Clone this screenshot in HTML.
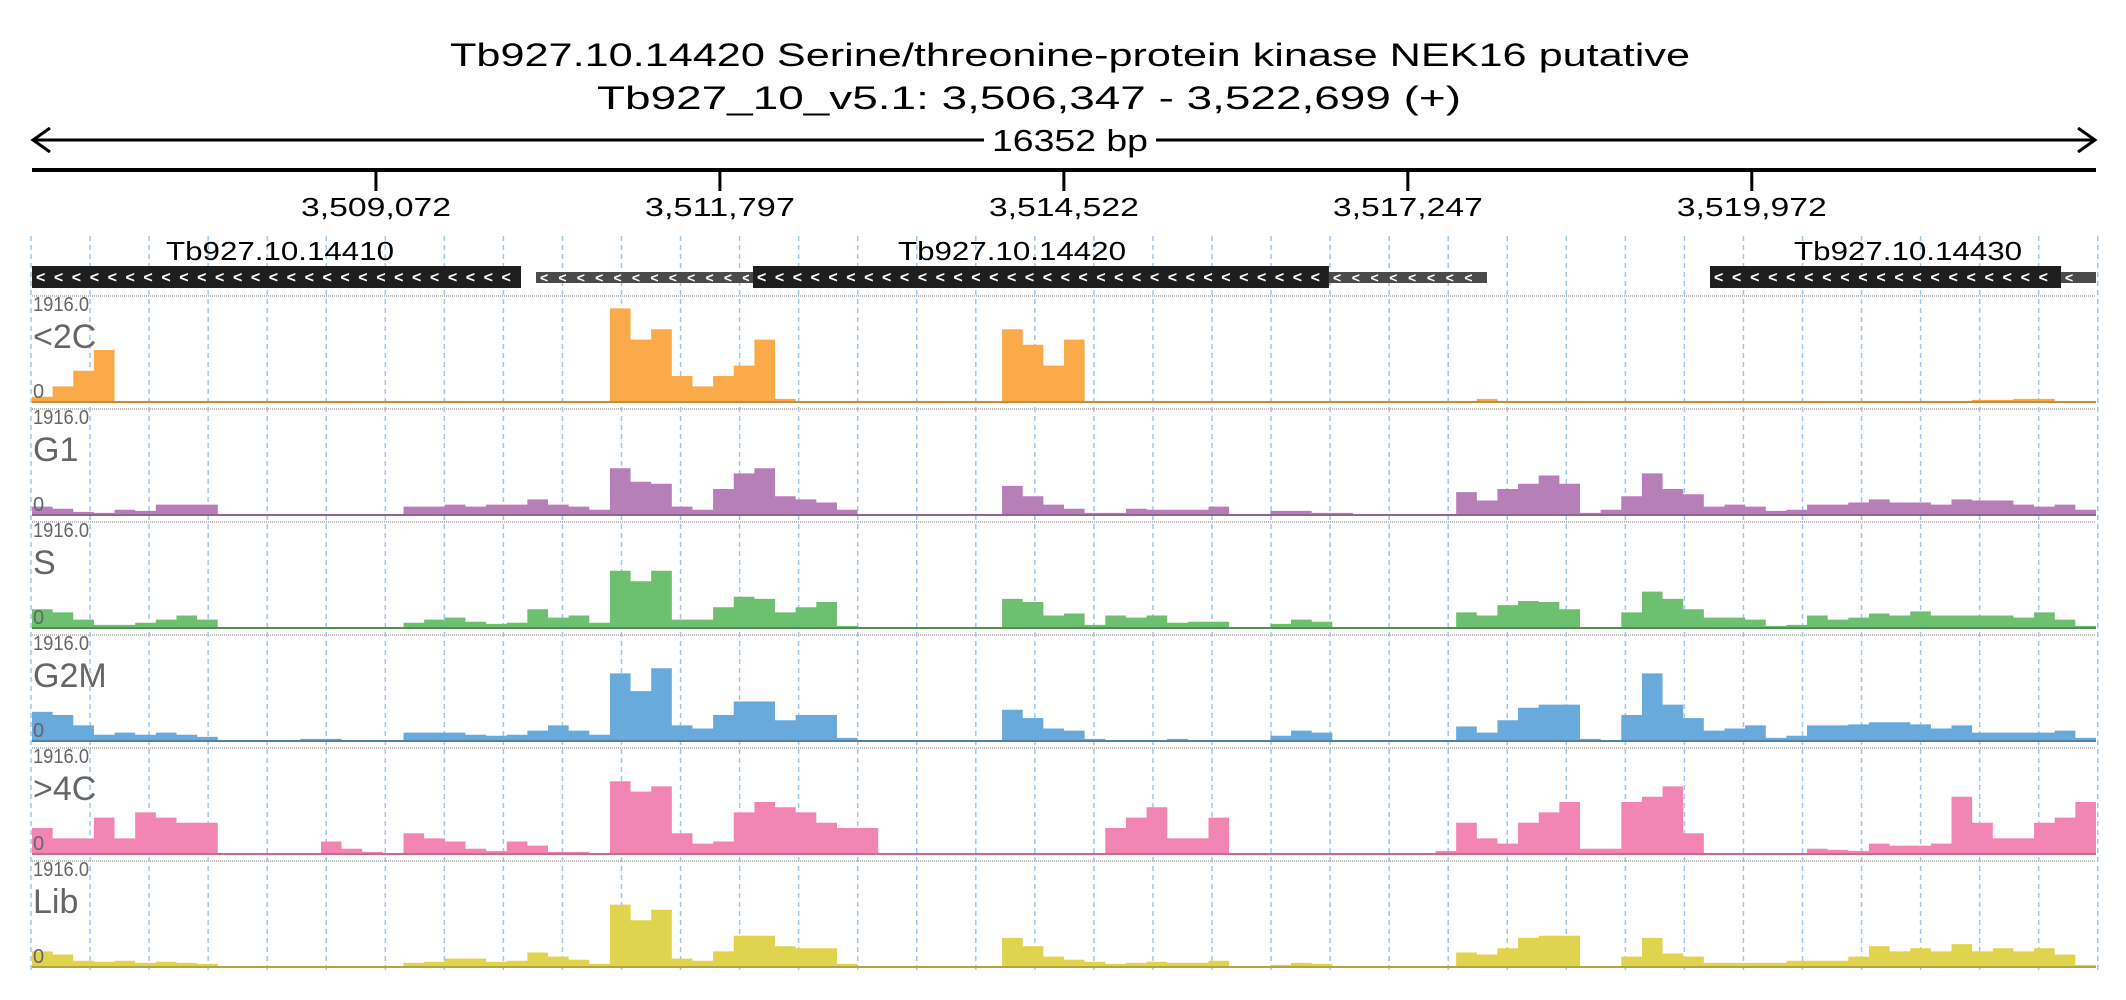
<!DOCTYPE html>
<html><head><meta charset="utf-8"><style>
html,body{margin:0;padding:0;background:#fff;}
svg{display:block;font-family:"Liberation Sans",sans-serif;}
</style></head><body>
<svg id="chart" width="2126" height="1000" viewBox="0 0 2126 1000" xmlns="http://www.w3.org/2000/svg">
<rect width="2126" height="1000" fill="#fff"/>
<g id="grid"></g>
<text x="1070" y="66" text-anchor="middle" font-size="32" textLength="1240" lengthAdjust="spacingAndGlyphs" fill="#000">Tb927.10.14420  Serine/threonine-protein kinase NEK16  putative</text>
<text x="1029" y="109" text-anchor="middle" font-size="32" textLength="864" lengthAdjust="spacingAndGlyphs" fill="#000">Tb927_10_v5.1: 3,506,347 - 3,522,699 (+)</text>
<g stroke="#000" stroke-width="3" fill="none">
<line x1="33" y1="140" x2="984" y2="140"/><line x1="1156" y1="140" x2="2095" y2="140"/>
<polyline points="50,128 33,140 50,152"/><polyline points="2078,128 2095,140 2078,152"/>
</g>
<text x="1070" y="151" text-anchor="middle" font-size="31" textLength="156" lengthAdjust="spacingAndGlyphs">16352 bp</text>
<line x1="32" y1="170" x2="2096" y2="170" stroke="#000" stroke-width="4"/>
<g id="axis"></g>
<g id="genes"></g>
<g id="tracks"></g>
</svg>
<script>
const NS="http://www.w3.org/2000/svg";
const START=3506347, END=3522699;
const tickValues=[3509072,3511797,3514522,3517247,3519972];
const tickLabels=["3,509,072","3,511,797","3,514,522","3,517,247","3,519,972"];
const geneNames=["Tb927.10.14410","Tb927.10.14420","Tb927.10.14430"];
const geneLabelPos=[3508312,3514111,3521210];
const cdsStart=[3506347,3512059,3519641];
const cdsEnd=[3510221,3516622,3522422];
const utrStart=[3510340,3516622,3522422];
const utrEnd=[3512059,3517874,3522699];
const trackNames=["<2C","G1","S","G2M",">4C","Lib"];
const trackMax="1916.0";
const nBins=100;
const v2C=[5,15,30,50,0,0,0,0,0,0,0,0,0,0,0,0,0,0,0,0,0,0,0,0,0,0,0,0,90,60,70,25,15,25,35,60,3,0,0,0,0,0,0,0,0,0,0,70,55,35,60,0,0,0,0,0,0,0,0,0,0,0,0,0,0,0,0,0,0,0,3,0,0,0,0,0,0,0,0,0,0,0,0,0,0,0,0,0,0,0,0,0,0,0,2,2,3,3,0,0];
const vG1=[8,6,3,2,5,4,10,10,10,0,0,0,0,1,1,1,0,0,8,8,10,8,10,10,15,10,8,5,45,32,30,8,5,25,40,45,18,15,12,5,0,0,0,0,0,0,0,28,18,10,6,2,2,6,5,5,5,8,1,1,4,4,2,2,1,0,0,0,1,22,14,25,30,38,30,2,5,18,40,25,20,8,10,8,4,5,10,10,12,15,12,12,10,15,14,14,10,8,10,5];
const vS=[18,15,8,3,3,5,8,12,8,0,0,0,0,1,1,1,0,0,5,8,10,6,4,5,18,10,12,5,55,45,55,8,8,20,30,28,15,20,25,2,1,0,0,0,0,0,0,28,25,12,14,3,12,10,12,5,6,6,0,0,4,8,6,0,0,0,0,0,1,15,12,22,26,25,18,1,1,15,35,28,18,10,10,8,2,3,12,8,10,14,12,16,12,12,12,12,10,15,8,2];
const vG2M=[28,25,15,6,8,6,8,6,4,0,0,0,0,2,2,0,0,0,8,8,8,6,5,6,10,15,10,6,65,48,70,15,12,25,38,38,20,25,25,3,1,0,0,0,0,0,0,30,22,12,10,2,1,1,1,2,1,1,0,0,5,10,8,1,0,0,0,0,1,14,8,20,32,35,35,2,1,25,65,35,22,10,12,15,3,5,15,15,16,18,18,16,12,15,8,8,8,8,10,3];
const v4C=[25,15,15,35,15,40,35,30,30,0,0,0,0,0,12,5,2,1,20,15,12,5,3,12,8,2,2,0,70,60,65,20,10,12,40,50,45,40,30,25,25,0,0,0,0,0,0,0,0,0,0,0,25,35,45,15,15,35,0,0,0,0,0,0,0,0,0,0,3,30,15,10,30,40,50,5,5,50,55,65,20,0,0,0,0,0,5,4,3,10,8,8,10,55,30,15,15,30,35,50];
const vLib=[15,12,6,5,6,4,5,4,3,0,0,0,0,1,1,0,0,0,4,5,8,8,5,6,14,10,7,3,60,45,55,8,6,15,30,30,20,18,18,3,0,0,0,0,0,0,0,28,20,10,7,5,3,4,5,4,4,6,0,0,2,4,3,1,1,0,0,0,1,14,12,18,28,30,30,1,1,10,28,13,10,4,4,4,4,6,6,6,10,20,15,18,15,22,15,18,15,18,12,2];
const trackValues=[v2C,vG1,vS,vG2M,v4C,vLib];
const trackColors=["#fbaa4a","#b67fb8","#6dc06f","#68aadc","#f385b5","#e0d44e"];
const lineColors=["#c98a3c","#8f6592","#4f8f51","#4f82a8","#c46a90","#b0a63c"];

const X0=32,X1=2096;
function xs(bp){return X0+(bp-START)/(END-START)*(X1-X0);}
function binX(i){return X0+i/nBins*(X1-X0);}
const TRACK_TOP=296,TRACK_STEP=113,TRACK_H=106;
function ys(v,k){return TRACK_TOP+TRACK_STEP*k+TRACK_H-v/100*(TRACK_H-2);}
function mk(tag,attrs,parent){const e=document.createElementNS(NS,tag);for(const a in attrs)e.setAttribute(a,attrs[a]);parent.appendChild(e);return e;}

const grid=document.getElementById('grid');
for(let k=0;k<=35;k++){
  const x=31+k*59.05;
  const l=mk('line',{x1:x,y1:236,x2:x,y2:972,stroke:'#9cc8ef','stroke-width':1.5,'stroke-dasharray':'5,4'},grid);
  
  
}
const axis=document.getElementById('axis');
tickValues.forEach((t,i)=>{
  const x=xs(t);
  const tk=mk('line',{x1:x,y1:170,x2:x,y2:191,stroke:'#000','stroke-width':3},axis);
  
  
  const tx=mk('text',{x:x,y:216,'text-anchor':'middle','font-size':26,textLength:150,lengthAdjust:'spacingAndGlyphs'},axis);
  tx.textContent=tickLabels[i];
  
  
});
const genes=document.getElementById('genes');
const defs=mk('defs',{},genes);
function chevrons(x1,x2,yc,fs,id){
  const cp=mk('clipPath',{id:id},defs);
  mk('rect',{x:x1,y:yc-15,width:x2-x1-4,height:30},cp);
  const n=Math.ceil((x2-x1)/17.6);
  const t=mk('text',{x:x1+4,y:yc+5,'font-size':fs,'font-weight':'bold',fill:'#fff','clip-path':'url(#'+id+')'},genes);
  t.textContent='<'.repeat(n);
  t.setAttribute('textLength',n*17.6);
  t.setAttribute('lengthAdjust','spacing');
  
  
}
for(let i=0;i<3;i++){
  const u=mk('rect',{x:xs(utrStart[i]),y:272,width:xs(utrEnd[i])-xs(utrStart[i]),height:11,fill:'#4a4a4a'},genes);
  
  
  chevrons(xs(utrStart[i]),xs(utrEnd[i]),277.5,14,'cu'+i);
  const r=mk('rect',{x:xs(cdsStart[i]),y:266,width:xs(cdsEnd[i])-xs(cdsStart[i]),height:22,fill:'#1e1e1e'},genes);
  
  
  chevrons(xs(cdsStart[i]),xs(cdsEnd[i]),277.5,16,'cc'+i);
  const lb=mk('text',{x:xs(geneLabelPos[i]),y:260,'text-anchor':'middle','font-size':26,textLength:228,lengthAdjust:'spacingAndGlyphs'},genes);
  lb.textContent=geneNames[i];
  
  
}
const tracks=document.getElementById('tracks');
trackNames.forEach((nm,k)=>{
  const g=mk('g',{},tracks);
  
  
  const top=TRACK_TOP+TRACK_STEP*k;
  const base=ys(0,k);
  const sep=mk('line',{x1:X0,y1:top,x2:X1,y2:top,stroke:'#bbb','stroke-width':2,'stroke-dasharray':'1,1'},g);
  
  
  const vals=trackValues[k];
  let d='M'+X0+','+base;
  for(let i=0;i<nBins;i++){
    const y=ys(vals[i],k);
    d+=' L'+binX(i)+','+y+' L'+binX(i+1)+','+y;
  }
  d+=' L'+X1+','+base+' Z';
  const p=mk('path',{d:d,fill:trackColors[k]},g);
  
  
  const bl=mk('line',{x1:X0,y1:base,x2:X1,y2:base,stroke:lineColors[k],'stroke-width':2},g);
  
  
  const mx=mk('text',{x:33,y:top+15,'font-size':20,fill:'#666',textLength:56,lengthAdjust:'spacingAndGlyphs'},g);
  mx.textContent=trackMax;
  
  
  const nl=mk('text',{x:33,y:top+52,'font-size':34,fill:'#666'},g);
  nl.textContent=nm;
  
  
  const z=mk('text',{x:33,y:base-4,'font-size':20,fill:'#666'},g);
  z.textContent='0';
  
  
});
</script>
</body></html>
